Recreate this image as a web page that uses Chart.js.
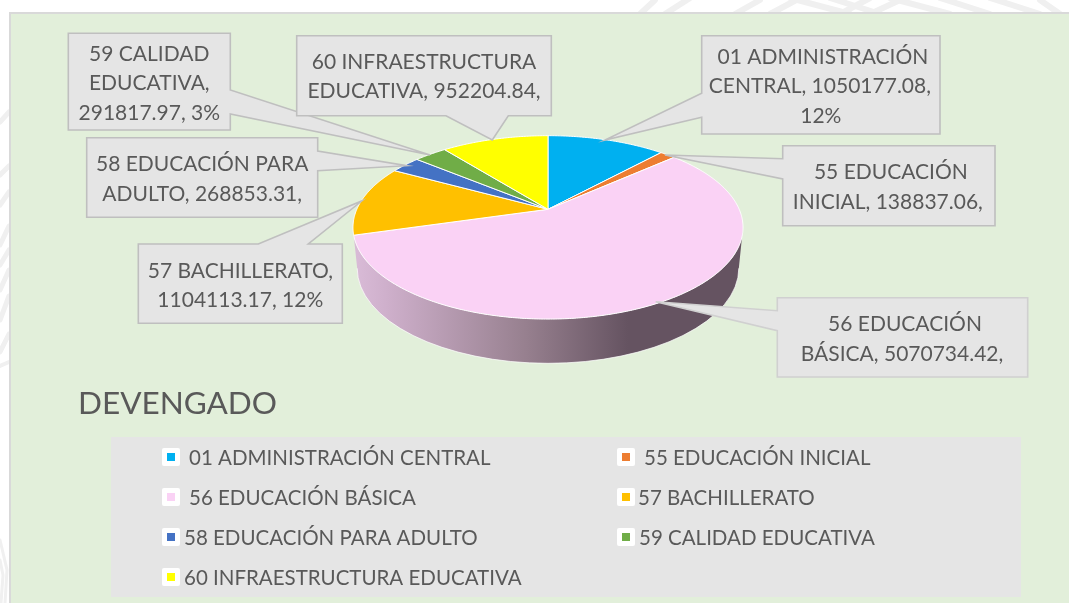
<!DOCTYPE html>
<html>
<head>
<meta charset="utf-8">
<style>
html,body{margin:0;padding:0;background:#fff;overflow:hidden}
#wrap{position:absolute;left:0;top:0;width:1069px;height:603px}
</style>
<script src="https://cdn.jsdelivr.net/npm/chart.js@4/dist/chart.umd.js"></script>
</head>
<body>
<div id="wrap"><canvas id="c" width="1069" height="603"></canvas></div>
<script>
// ---- data ----
const titleText = 'DEVENGADO';
const categories = [
  '01 ADMINISTRACIÓN CENTRAL',
  '55 EDUCACIÓN INICIAL',
  '56 EDUCACIÓN BÁSICA',
  '57 BACHILLERATO',
  '58 EDUCACIÓN PARA ADULTO',
  '59 CALIDAD EDUCATIVA',
  '60 INFRAESTRUCTURA EDUCATIVA'
];
const devengado = [1050177.08, 138837.06, 5070734.42, 1104113.17, 268853.31, 291817.97, 952204.84];
const sliceColors = ['#00B0F0', '#ED7D31', '#FAD2F5', '#FFC000', '#4472C4', '#70AD47', '#FFFF00'];
const labelLines = [
  ['01 ADMINISTRACIÓN', 'CENTRAL, 1050177.08,', '12%'],
  ['55 EDUCACIÓN', 'INICIAL, 138837.06,'],
  ['56 EDUCACIÓN', 'BÁSICA, 5070734.42,'],
  ['57 BACHILLERATO,', '1104113.17, 12%'],
  ['58 EDUCACIÓN PARA', 'ADULTO, 268853.31,'],
  ['59 CALIDAD', 'EDUCATIVA,', '291817.97, 3%'],
  ['60 INFRAESTRUCTURA', 'EDUCATIVA, 952204.84,']
];

// ---- layout and style (not data) ----
const FONT = 'Lato, Carlito, sans-serif';
const TEXT = '#595959';
const BOX_FILL = '#E5E5E5';
const BOX_LINE = '#BFBFBF';
const TILT = {k: -0.197, q: 0.461};           // perspective of the disc
const calloutLayout = [
  {box:[701.7,35.7,940,134],   ptr:[[701.7,93.3],[605,140],[701.7,117.3]],  ys:[57,86.5,116.5], dx:[2,-1,0]},
  {box:[782.7,145.7,995,225.7],ptr:[[782.7,158.7],[665,155],[782.7,179]],   ys:[172,202],       dx:[2,-1]},
  {box:[777.3,297.7,1027.7,377],ptr:[[777.3,310.7],[655.7,301.7],[777.3,330.7]],ys:[324,354],   dx:[2.5,-0.5], line:'#D0D0D0'},
  {box:[138.3,244,342.3,323.3],ptr:[[258.3,244],[361.7,201],[308.3,244]],   ys:[271.5,300.5],   dx:[0,0]},
  {box:[86.7,137.7,317.7,217.3],ptr:[[317.7,151],[406.7,165.7],[317.7,170.7]],ys:[164.5,194.5], dx:[0,0]},
  {box:[68.3,33.3,230.3,130],  ptr:[[230.3,90],[430,155],[230.3,114]],      ys:[54,83.7,113.5], dx:[0,0,0]},
  {box:[296.7,35.7,551.3,115.7],ptr:[[446,115.7],[492.3,140],[508.3,115.7]],ys:[62,91.5],       dx:[0,0]}
];
const legendLayout = [
  {mx:162,tx:189,y:458},{mx:617,tx:644,y:458},
  {mx:162,tx:189,y:498},{mx:617,tx:638,y:498},
  {mx:162,tx:184,y:538},{mx:617,tx:639,y:538},
  {mx:162,tx:184,y:578}
];

function project(el, angle) {
  const u = Math.cos(angle), v = Math.sin(angle);
  const d = 1 + TILT.k * v, R = el.outerRadius;
  return [el.x + R * u / d, el.y + R * TILT.q * v / d];
}

// Arc element that draws its library-computed angles on a tilted disc.
class TiltedArc extends Chart.ArcElement {
  draw(ctx) {
    const o = this.options, step = 0.01;
    ctx.save();
    // side wall for the slice that holds the front of the rim
    if (this.startAngle < Math.PI / 2 && this.endAngle > Math.PI / 2) {
      const frontA = Math.max(this.startAngle, 0.198), frontB = this.endAngle;
      const g = ctx.createLinearGradient(this.x - 190, 0, this.x + 80, 0);
      g.addColorStop(0, '#D8BAD6'); g.addColorStop(0.1, '#CFB0CC');
      g.addColorStop(0.62, '#97808F'); g.addColorStop(1, '#655361');
      ctx.beginPath();
      const p0 = project(this, frontA); ctx.moveTo(p0[0], p0[1]);
      for (let a = frontA; a <= frontB; a += step) { const p = project(this, a); ctx.lineTo(p[0], p[1]); }
      const p1 = project(this, frontB); ctx.lineTo(p1[0], p1[1]);
      ctx.ellipse(this.x, this.y + 59, this.outerRadius * 0.998, this.outerRadius * 0.497, 0, Math.PI, 0, true);
      ctx.closePath();
      ctx.fillStyle = g; ctx.fill();
      ctx.beginPath();
      ctx.ellipse(this.x, this.y + 59, this.outerRadius * 0.998, this.outerRadius * 0.497, 0, Math.PI, 0, true);
      ctx.strokeStyle = 'rgba(255,255,255,0.7)'; ctx.lineWidth = 1; ctx.stroke();
    }
    // top face
    ctx.beginPath();
    ctx.moveTo(this.x, this.y);
    for (let a = this.startAngle; a < this.endAngle; a += step) { const p = project(this, a); ctx.lineTo(p[0], p[1]); }
    const pe = project(this, this.endAngle); ctx.lineTo(pe[0], pe[1]);
    ctx.closePath();
    ctx.fillStyle = o.backgroundColor; ctx.fill();
    ctx.strokeStyle = o.borderColor; ctx.lineWidth = o.borderWidth; ctx.lineJoin = 'round'; ctx.stroke();
    ctx.restore();
  }
}
TiltedArc.id = 'tiltedArc';
class TiltedPie extends Chart.PieController {}
TiltedPie.id = 'tiltedPie';
TiltedPie.defaults = Object.assign({}, Chart.PieController.defaults, {dataElementType: 'tiltedArc'});
TiltedPie.overrides = Chart.PieController.overrides;
Chart.register(TiltedArc, TiltedPie);

function strokes(ctx, list) {
  ctx.lineCap = 'round'; ctx.strokeStyle = '#F0F0F0';
  list.forEach(s => {
    ctx.lineWidth = s[0];
    ctx.beginPath(); ctx.moveTo(s[1], s[2]);
    for (let i = 3; i < s.length; i += 2) ctx.lineTo(s[i], s[i+1]);
    ctx.stroke();
  });
}

const slideBackdrop = {
  id: 'slideBackdrop',
  beforeDraw(chart) {
    const ctx = chart.ctx;
    ctx.save();
    ctx.fillStyle = '#FFFFFF'; ctx.fillRect(0, 0, 1069, 603);
    // faint watermark visible around the panel
    strokes(ctx, [
      [6, 640,14, 655,0],[6, 665,14, 690,-2],[6, 735,14, 760,0],[6, 770,14, 800,-2],
      [6, 790,-2, 850,14],[6, 830,-2, 880,14],[6, 840,14, 870,-2],[6, 870,14, 900,0],
      [6, 890,-2, 950,14],[6, 940,-2, 990,14],[6, 990,-2, 1040,14],[6, 1040,0, 1060,14],
      [5, 0,122, 9,112],[5, 0,175, 9,166],[5, 0,205, 9,192],[5, 0,245, 9,226],[5, 0,265, 9,250],
      [5, 0,290, 9,270],[5, 0,320, 9,296],[5, 0,352, 9,334],[4, 0,366, 9,362],
      [3, 5,603, 7,570, 0,540],[3, 1,603, 3,575, 0,560]
    ]);
    // panel
    ctx.fillStyle = '#E2EFDA'; ctx.fillRect(10, 13, 1059, 590);
    ctx.strokeStyle = '#D9D9D9'; ctx.lineWidth = 2;
    ctx.beginPath(); ctx.moveTo(10, 603); ctx.lineTo(10, 13); ctx.lineTo(1069, 13); ctx.stroke();
    // title
    ctx.fillStyle = TEXT; ctx.textAlign = 'left'; ctx.textBaseline = 'alphabetic';
    ctx.font = '31.5px ' + FONT;
    ctx.fillText(titleText, 78, 414);
    // legend
    ctx.fillStyle = '#E5E5E5'; ctx.fillRect(111, 437, 910, 160);
    ctx.font = '20.5px ' + FONT; ctx.textBaseline = 'middle';
    categories.forEach((name, i) => {
      const l = legendLayout[i];
      ctx.fillStyle = '#FFFFFF';
      ctx.beginPath(); ctx.roundRect(l.mx, l.y - 10, 18, 18, 2); ctx.fill();
      ctx.fillStyle = sliceColors[i];
      ctx.fillRect(l.mx + 5, l.y - 5, 8, 8);
      ctx.fillStyle = TEXT;
      ctx.fillText(name, l.tx, l.y);
    });
    ctx.restore();
  }
};

const callouts = {
  id: 'callouts',
  afterDraw(chart) {
    const ctx = chart.ctx;
    ctx.save();
    ctx.font = '21px ' + FONT; ctx.textAlign = 'center'; ctx.textBaseline = 'middle';
    calloutLayout.forEach((c, i) => {
      const [l, t, r, b] = c.box;
      const p = c.ptr;
      let path;
      if (p[0][1] === b) path = [[l,t],[r,t],[r,b],p[2],p[1],p[0],[l,b]];
      else if (p[0][1] === t) path = [[l,t],p[0],p[1],p[2],[r,t],[r,b],[l,b]];
      else if (p[0][0] === r) path = [[l,t],[r,t],p[0],p[1],p[2],[r,b],[l,b]];
      else path = [[l,t],[r,t],[r,b],[l,b],p[2],p[1],p[0]];
      ctx.beginPath();
      path.forEach((q, n) => n ? ctx.lineTo(q[0], q[1]) : ctx.moveTo(q[0], q[1]));
      ctx.closePath();
      ctx.fillStyle = BOX_FILL; ctx.fill();
      ctx.strokeStyle = c.line || BOX_LINE; ctx.lineWidth = 1.6; ctx.lineJoin = 'miter'; ctx.stroke();
      ctx.fillStyle = TEXT;
      labelLines[i].forEach((txt, n) => ctx.fillText(txt, (l + r) / 2 + c.dx[n], c.ys[n]));
    });
    ctx.restore();
  }
};

new Chart(document.getElementById('c').getContext('2d'), {
  type: 'tiltedPie',
  data: {
    labels: categories,
    datasets: [{ label: titleText, data: devengado, backgroundColor: sliceColors, borderColor: '#FFFFFF', borderWidth: 1 }]
  },
  options: {
    responsive: false,
    animation: false,
    radius: 191.2,
    layout: { padding: { left: 27, right: 0, top: 0, bottom: 184.4 } },
    plugins: { legend: { display: false }, title: { display: false }, tooltip: { enabled: false } }
  },
  plugins: [slideBackdrop, callouts]
});
</script>
</body>
</html>
